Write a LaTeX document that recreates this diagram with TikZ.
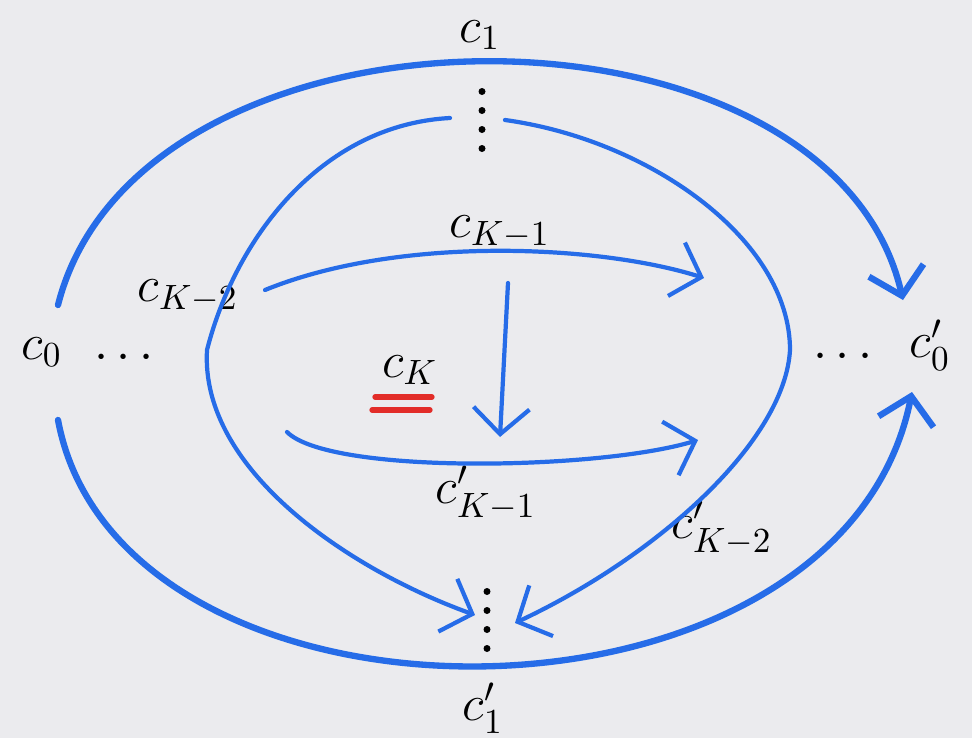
\documentclass[tikz,border=0pt]{standalone}
\usepackage{amsmath, amssymb}
\usepackage{tikz}
\usetikzlibrary{arrows.meta, calc}

\definecolor{paper}{RGB}{235,235,238}
\definecolor{penblue}{RGB}{38,108,232}
\definecolor{penred}{RGB}{226,44,40}

\begin{document}
\begin{tikzpicture}[
        lbl/.style={font=\Large, inner sep=1pt},
        pen/.style={draw=penblue, line width=1.2pt, line cap=round},
        outerpen/.style={pen, line width=1.8pt},
        dotstack/.style={minimum width=0.3cm, minimum height=0.7cm, inner sep=0pt},
        >={Straight Barb[length=2.6mm, width=5.6mm]}
    ]
\useasboundingbox (0,0) rectangle (9.72,7.38);
\fill[paper] (0,0) rectangle (9.72,7.38);

% Labels
\node[lbl] (c1)   at (4.80,7.03) {$c_1$};
\node[lbl] (ck1)  at (5.00,5.06) {$c_{K-1}$};
\node[lbl] (ck2)  at (1.88,4.42) {$c_{K-2}$};
\node[lbl] (c0)   at (0.42,3.86) {$c_0$};
\node[lbl] (ldots) at (1.28,3.80) {$\cdots$};
\node[lbl] (ck)   at (4.10,3.68) {$c_K$};
\node[lbl] (rdots) at (8.47,3.81) {$\cdots$};
\node[lbl] (c0p)  at (9.30,3.93) {$c_0'$};
\node[lbl] (ck1p) at (4.86,2.45) {$c'_{K-1}$};
\node[lbl] (ck2p) at (7.22,2.10) {$c'_{K-2}$};
\node[lbl] (c1p)  at (4.83,0.30) {$c'_1$};

% Vertical dots, top and bottom
\node[dotstack] (topdots) at (4.82,6.18) {};
\node[dotstack] (botdots) at (4.87,1.18) {};
\foreach \k in {-1.5,-0.5,0.5,1.5} {
    \fill ([yshift=\k*0.19cm]topdots.center) circle (0.035);
    \fill ([yshift=\k*0.19cm]botdots.center) circle (0.035);
}

% Red double underline of c_K
\draw[penred, line width=1.5pt, line cap=round]
    ($(ck)+(-0.35,-0.27)$) -- ($(ck)+(0.22,-0.27)$)
    ($(ck)+(-0.38,-0.40)$) -- ($(ck)+(0.20,-0.40)$);

% Free ends
\coordinate (kend)  at (7.04,4.60);
\coordinate (kpbeg) at (2.87,3.06);
\coordinate (kpend) at (6.98,2.98);

% Outer arcs
\draw[outerpen, ->] ($(c0)+(0.16,0.47)$) .. controls (1.40,7.56) and (8.30,7.56) .. ($(c0p)+(-0.27,0.45)$);
\draw[outerpen, ->] ($(c0)+(0.16,-0.68)$) .. controls (1.20,-0.14) and (8.40,-0.14) .. ($(c0p)+(-0.18,-0.47)$);

% Inner arcs through c_{K-2} and c'_{K-2}
\draw[pen, ->] ($(topdots)+(-0.32,0.02)$) .. controls (3.20,6.13) and (2.35,4.98) .. (2.07,3.88)
    .. controls (2.00,2.68) and (3.50,1.68) .. ($(botdots)+(-0.12,0.05)$);
\draw[pen, ->] ($(topdots)+(0.23,0.00)$) .. controls (6.50,5.98) and (7.90,4.98) .. (7.90,3.88)
    .. controls (7.85,2.98) and (6.60,1.83) .. ($(botdots)+(0.28,-0.03)$);

% Middle arrows
\draw[pen, ->] ($(ck2)+(0.77,0.06)$) .. controls (4.00,5.03) and (6.00,4.93) .. (kend);
\draw[pen, ->] ($(ck1)+(0.08,-0.51)$) -- ($(ck1p)+(0.14,0.56)$);
\draw[pen, ->] (kpbeg) .. controls (3.30,2.63) and (6.00,2.68) .. (kpend);
\end{tikzpicture}
\end{document}
